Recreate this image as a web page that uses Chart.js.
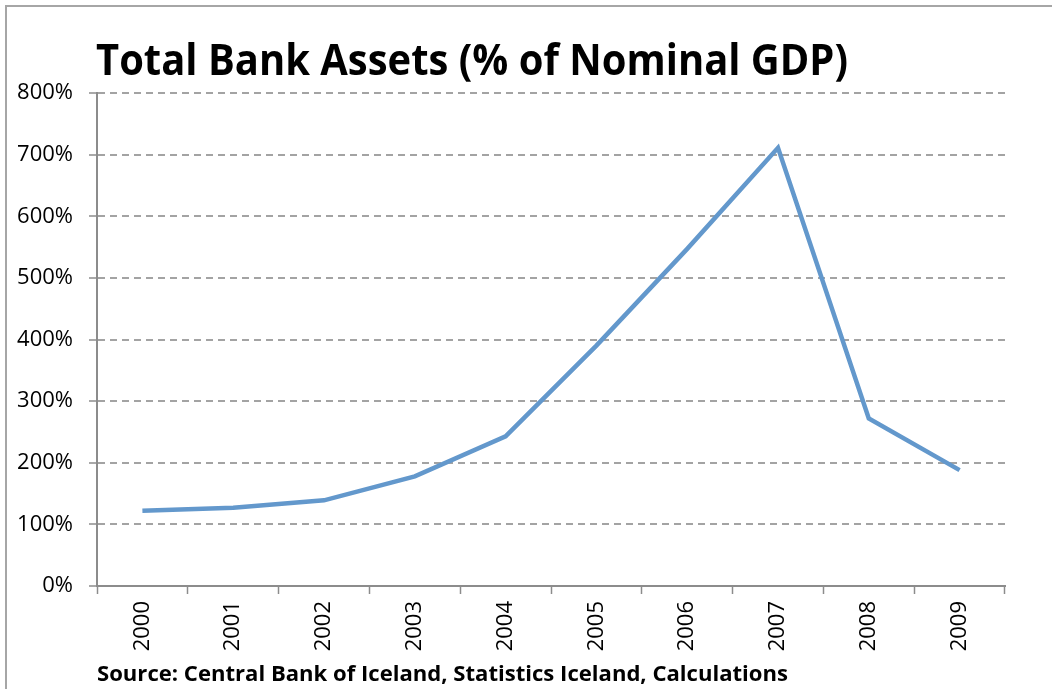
<!DOCTYPE html>
<html>
<head>
<meta charset="utf-8">
<script src="https://cdn.jsdelivr.net/npm/chart.js@4/dist/chart.umd.min.js"></script>
<style>
  html, body { margin: 0; padding: 0; background: #fff; }
  canvas { display: block; }
</style>
</head>
<body>
<canvas id="c" width="1052" height="689"></canvas>
<script>
const years = ['2000','2001','2002','2003','2004','2005','2006','2007','2008','2009'];
const bankAssetsPct = [122, 127, 139, 178, 243, 390, 547, 711, 272, 188];
const yTicks = [0, 100, 200, 300, 400, 500, 600, 700, 800];
const titleText = 'Total Bank Assets (% of Nominal GDP)';
const sourceText = 'Source: Central Bank of Iceland, Statistics Iceland, Calculations';

const FONT = '"Open Sans", "Liberation Sans", sans-serif';

function drawFitted(ctx, text, weight, size, x, y, targetWidth) {
  ctx.font = weight + ' ' + size + 'px ' + FONT;
  const w = ctx.measureText(text).width;
  const sx = targetWidth / w;
  ctx.save();
  ctx.translate(x, y);
  ctx.scale(sx, 1);
  ctx.fillText(text, 0, 0);
  ctx.restore();
}

const decorPlugin = {
  id: 'decor',
  beforeDraw(chart) {
    const ctx = chart.ctx;
    ctx.save();
    ctx.strokeStyle = '#a6a6a6';
    ctx.lineWidth = 2;
    ctx.beginPath();
    ctx.moveTo(6, chart.height);
    ctx.lineTo(6, 6);
    ctx.lineTo(chart.width, 6);
    ctx.stroke();
    ctx.restore();
  },
  afterDraw(chart) {
    const ctx = chart.ctx;
    const a = chart.chartArea;
    ctx.save();
    ctx.fillStyle = '#000';
    ctx.textBaseline = 'middle';
    ctx.textAlign = 'left';
    drawFitted(ctx, titleText, 'bold', 43, a.left - 1, 63, 752);
    drawFitted(ctx, sourceText, 'bold', 21, a.left, 675, 691);
    ctx.restore();
  }
};

new Chart(document.getElementById('c'), {
  type: 'line',
  data: {
    labels: years,
    datasets: [{
      data: bankAssetsPct,
      borderColor: '#6398CC',
      borderWidth: 4.5,
      pointRadius: 0,
      tension: 0,
      fill: false,
      borderJoinStyle: 'miter',
      borderCapStyle: 'butt'
    }]
  },
  options: {
    responsive: false,
    animation: false,
    layout: { padding: { top: 93, right: 47, left: 0, bottom: 0 } },
    plugins: {
      legend: { display: false },
      title: { display: false },
      tooltip: { enabled: false }
    },
    scales: {
      x: {
        offset: true,
        grid: {
          offset: true,
          drawOnChartArea: false,
          drawTicks: true,
          tickLength: 8,
          color: '#8c8c8c',
          tickColor: '#8c8c8c',
          tickWidth: 1.5
        },
        border: { display: true, color: '#8c8c8c', width: 2 },
        ticks: {
          minRotation: 90,
          maxRotation: 90,
          padding: 7,
          color: '#000',
          font: { family: FONT, size: 22 }
        },
        afterFit(scale) { scale.height = 103; }
      },
      y: {
        min: 0,
        max: 800,
        afterBuildTicks(scale) { scale.ticks = yTicks.map(v => ({ value: v })); },
        grid: {
          color: (ctx) => ctx.tick && ctx.tick.value === 0 ? 'rgba(0,0,0,0)' : '#a3a3a3',
          lineWidth: 2,
          tickLength: 8,
          tickColor: '#8c8c8c',
          tickWidth: 1.5,
          tickBorderDash: []
        },
        border: { display: true, color: '#8c8c8c', width: 2, dash: [7, 5] },
        ticks: {
          padding: 16,
          color: '#000',
          font: { family: FONT, size: 22 },
          callback: (v) => v + '%'
        },
        afterFit(scale) { scale.width = 97; }
      }
    }
  },
  plugins: [decorPlugin]
});
</script>
</body>
</html>
